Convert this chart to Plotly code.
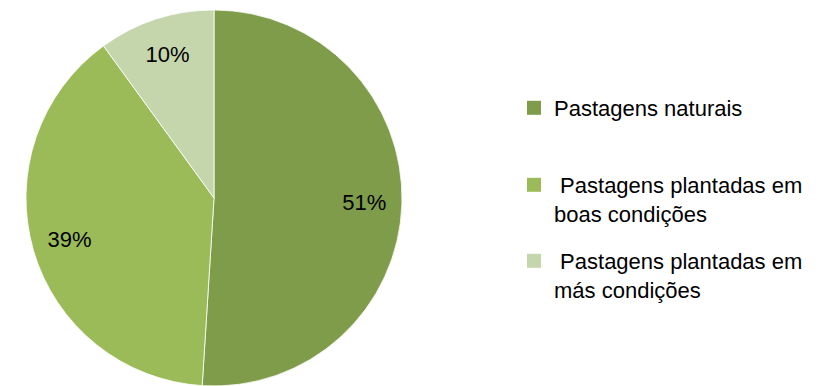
import plotly.graph_objects as go

categories = ["Pastagens naturais",
              "\u00a0Pastagens plantadas em<br>boas condições",
              "\u00a0Pastagens plantadas em<br>más condições"]
values = [51, 39, 10]
colors = ["#7F9C4A", "#9BBB59", "#C5D6AD"]

dom = dict(x=[25/827, 403/827], y=[0, 376/386])

fig = go.Figure()
# Main pie (filled slices)
fig.add_trace(go.Pie(
    labels=categories, values=values, sort=False,
    direction="clockwise", rotation=0,
    marker=dict(colors=colors, line=dict(color="white", width=0.8)),
    textinfo="none", domain=dom, showlegend=False,
    hoverinfo="label+percent",
))
# Transparent ring carrying the percentage labels (places them toward the rim)
fig.add_trace(go.Pie(
    labels=categories, values=values, sort=False,
    direction="clockwise", rotation=0, hole=0.6,
    marker=dict(colors=["rgba(0,0,0,0)"] * 3, line=dict(width=0)),
    texttemplate="%{percent:.0%}", textposition="inside",
    insidetextorientation="horizontal",
    textfont=dict(family="Liberation Sans", size=22, color="black"),
    domain=dom, showlegend=False, hoverinfo="skip",
))

# Legend entries (one legend per entry so spacing can match the reference)
legend_names = ["legend", "legend2", "legend3"]
legend_tops = [87, 164, 240]
for name, label, col in zip(legend_names, categories, colors):
    fig.add_trace(go.Scatter(
        x=[None], y=[None], mode="markers", name=label,
        marker=dict(symbol="square", size=14, color=col),
        legend=name, showlegend=True, hoverinfo="skip",
    ))

leg_common = dict(
    x=514/827, xanchor="left", yanchor="top",
    font=dict(family="Liberation Sans", size=22, color="black"),
    valign="top", bgcolor="rgba(0,0,0,0)",
)
layout_legends = {n: dict(leg_common, y=1 - t/386) for n, t in zip(legend_names, legend_tops)}

fig.update_layout(
    width=827, height=386,
    margin=dict(l=0, r=0, t=0, b=0),
    paper_bgcolor="white", plot_bgcolor="white",
    xaxis=dict(visible=False), yaxis=dict(visible=False),
    **layout_legends,
)

fig.write_html("out.html")
